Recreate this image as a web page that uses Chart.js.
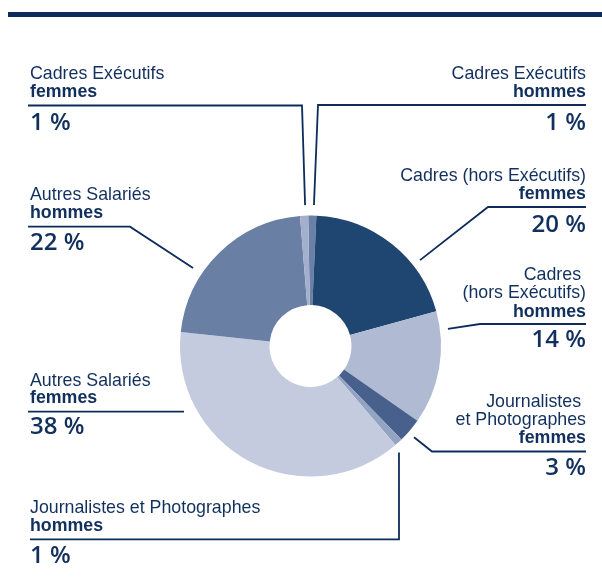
<!DOCTYPE html>
<html lang="fr">
<head>
<meta charset="utf-8">
<title>Répartition des effectifs</title>
<script src="https://cdn.jsdelivr.net/npm/chart.js@4/dist/chart.umd.min.js"></script>
<style>
  html, body { margin: 0; padding: 0; background: #ffffff; }
  #wrap { position: relative; width: 602px; height: 583px; }
</style>
</head>
<body>
<div id="wrap"><canvas id="pie" width="602" height="583"></canvas></div>
<script>
// Categories, clockwise from the top of the ring
const categories = [
  'Cadres Exécutifs hommes',
  'Cadres (hors Exécutifs) femmes',
  'Cadres (hors Exécutifs) hommes',
  'Journalistes et Photographes femmes',
  'Journalistes et Photographes hommes',
  'Autres Salariés femmes',
  'Autres Salariés hommes',
  'Cadres Exécutifs femmes'
];
// Share of the workforce, in percent
const shares = [1, 20, 14, 3, 1, 38, 22, 1];
const sliceColors = ['#6b80a6', '#1f4571', '#b0bad3', '#47608c', '#93a4c3', '#c4cbdf', '#6a7fa4', '#a3afcc'];

const INK = '#12305e';
const RULE = '#0d2c5b';
const TEXT_FONT = '17.8px "Liberation Sans", Arial, sans-serif';
const BOLD_FONT = 'bold 17.8px "Liberation Sans", Arial, sans-serif';
const NUM_FONT = '600 24px "Open Sans", "Liberation Sans", sans-serif';

// Callout layout: text lines, rule under the name, and the leader toward the ring
// (leader tip is given as an angle from the top, clockwise, and a gap beyond the outer edge)
const callouts = [
  { idx: 7, align: 'left', x: 30, lines: [['Cadres Exécutifs', 0], ['femmes', 1]], y: [79, 97],
    rule: { y: 105.5, x0: 28, x1: 302 }, num: 129.5, tip: { angle: -2.2, gap: 10.5 } },
  { idx: 0, align: 'right', x: 586, lines: [['Cadres Exécutifs', 0], ['hommes', 1]], y: [78.5, 96.5],
    rule: { y: 105, x0: 318, x1: 586 }, num: 130, tip: { angle: 1.4, gap: 10.5 } },
  { idx: 1, align: 'right', x: 586, lines: [['Cadres (hors Exécutifs)', 0], ['femmes', 1]], y: [180.5, 198.5],
    rule: { y: 207, x0: 488, x1: 586 }, num: 231.5, tip: { angle: 51.9, gap: 8.7 } },
  { idx: 2, align: 'right', x: 586, lines: [['Cadres ', 0], ['(hors Exécutifs)', 0], ['hommes', 1]], y: [280, 298, 316.5],
    rule: { y: 324, x0: 480, x1: 586 }, num: 346.5, tip: { angle: 82.9, gap: 8 } },
  { idx: 3, align: 'right', x: 586, lines: [['Journalistes ', 0], ['et Photographes', 0], ['femmes', 1]], y: [407, 425, 443],
    rule: { y: 451.5, x0: 432, x1: 586 }, num: 475, tip: { angle: 131.4, gap: 7.5 } },
  { idx: 4, align: 'left', x: 30, lines: [['Journalistes et Photographes', 0], ['hommes', 1]], y: [512.5, 530.5],
    rule: { y: 539.3, x0: 30, x1: 399 }, num: 562.5, tip: { angle: 140.3, gap: 8 } },
  { idx: 5, align: 'left', x: 30, lines: [['Autres Salariés', 0], ['femmes', 1]], y: [385.5, 403],
    rule: { y: 411.7, x0: 28, x1: 184 }, num: 434, tip: null },
  { idx: 6, align: 'left', x: 30, lines: [['Autres Salariés', 0], ['hommes', 1]], y: [200, 218],
    rule: { y: 226.7, x0: 28, x1: 130 }, num: 250, tip: { angle: 303.6, gap: 10.5 } }
];

const calloutPlugin = {
  id: 'callouts',
  beforeDraw(chart) {
    const ctx = chart.ctx;
    ctx.save();
    ctx.fillStyle = '#0c2d5c';
    ctx.fillRect(8, 12, 594, 5);
    ctx.restore();
  },
  afterDraw(chart) {
    const ctx = chart.ctx;
    const arc = chart.getDatasetMeta(0).data[0];
    const cx = arc.x, cy = arc.y, R = arc.outerRadius;
    ctx.save();
    ctx.textBaseline = 'alphabetic';
    callouts.forEach(c => {
      ctx.fillStyle = INK;
      ctx.textAlign = c.align;
      c.lines.forEach((ln, k) => {
        ctx.font = ln[1] ? BOLD_FONT : TEXT_FONT;
        ctx.fillText(ln[0], c.x, c.y[k]);
      });
      ctx.font = NUM_FONT;
      ctx.fillText(shares[c.idx] + ' %', c.x, c.num);

      ctx.strokeStyle = RULE;
      ctx.lineWidth = 1.8;
      ctx.lineJoin = 'miter';
      ctx.beginPath();
      if (c.align === 'left') {
        ctx.moveTo(c.rule.x0, c.rule.y);
        ctx.lineTo(c.rule.x1, c.rule.y);
      } else {
        ctx.moveTo(c.rule.x1, c.rule.y);
        ctx.lineTo(c.rule.x0, c.rule.y);
      }
      if (c.tip) {
        const a = c.tip.angle * Math.PI / 180;
        const r = R + c.tip.gap;
        ctx.lineTo(cx + r * Math.sin(a), cy - r * Math.cos(a));
      }
      ctx.stroke();
    });
    ctx.restore();
  }
};

new Chart(document.getElementById('pie'), {
  type: 'doughnut',
  data: {
    labels: categories,
    datasets: [{
      data: shares,
      backgroundColor: sliceColors,
      borderWidth: 0,
      hoverOffset: 0
    }]
  },
  options: {
    responsive: false,
    animation: false,
    rotation: -1,
    cutout: '31.4%',
    layout: { padding: { left: 180, right: 161, top: 215.5, bottom: 106.5 } },
    plugins: {
      legend: { display: false },
      tooltip: { enabled: false }
    }
  },
  plugins: [calloutPlugin]
});
</script>
</body>
</html>
